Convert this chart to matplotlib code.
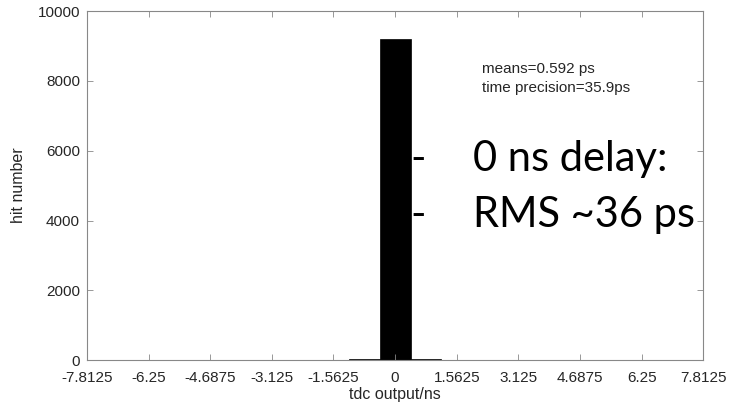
import numpy as np
import matplotlib
matplotlib.use('Agg')
import matplotlib.pyplot as plt

# histogram data (bin centers in ns, counts)
bin_centers = [-0.78125, 0.0, 0.78125]
hit_counts = [20, 9200, 20]
bin_width = 0.78125

x_ticks = [-7.8125, -6.25, -4.6875, -3.125, -1.5625, 0, 1.5625, 3.125, 4.6875, 6.25, 7.8125]
x_tick_labels = ['-7.8125', '-6.25', '-4.6875', '-3.125', '-1.5625', '0',
                 '1.5625', '3.125', '4.6875', '6.25', '7.8125']
y_ticks = [0, 2000, 4000, 6000, 8000, 10000]

plt.rcParams['font.family'] = ['Liberation Sans', 'DejaVu Sans']

fig = plt.figure(figsize=(7.31, 4.12), dpi=100)
ax = fig.add_axes([0.119, 0.126, 0.843, 0.847])

ax.bar(bin_centers, hit_counts, width=bin_width, color='black', edgecolor='black', linewidth=0.5)

ax.set_xlim(-7.8125, 7.8125)
ax.set_ylim(0, 10000)
ax.set_xticks(x_ticks)
ax.set_xticklabels(x_tick_labels)
ax.set_yticks(y_ticks)
ax.tick_params(direction='in', top=True, right=True, labelsize=11, colors='#888888',
               labelcolor='#262626', length=4, width=0.6)
ax.tick_params(axis='x', pad=8)
ax.tick_params(axis='y', pad=5)
for s in ax.spines.values():
    s.set_color('#888888')
    s.set_linewidth(0.8)

ax.set_xlabel('tdc output/ns', fontsize=11.5, color='#262626', labelpad=1)
ax.set_ylabel('hit number', fontsize=11.5, color='#262626', labelpad=8)

ax.text(2.2, 8350, 'means=0.592 ps', fontsize=11, color='#262626', va='center')
ax.text(2.2, 7800, 'time precision=35.9ps', fontsize=11, color='#262626', va='center')

# slide overlay text
big = dict(fontsize=30, color='black', family=['Lato', 'DejaVu Sans'], va='baseline')
fig.text(0.562, (412 - 171) / 412, '-', **big)
fig.text(0.647, (412 - 171) / 412, '0 ns delay:', **big)
fig.text(0.562, (412 - 227) / 412, '-', **big)
fig.text(0.647, (412 - 227) / 412, 'RMS ~36 ps', **big)

fig.savefig('out.png', dpi=100)
